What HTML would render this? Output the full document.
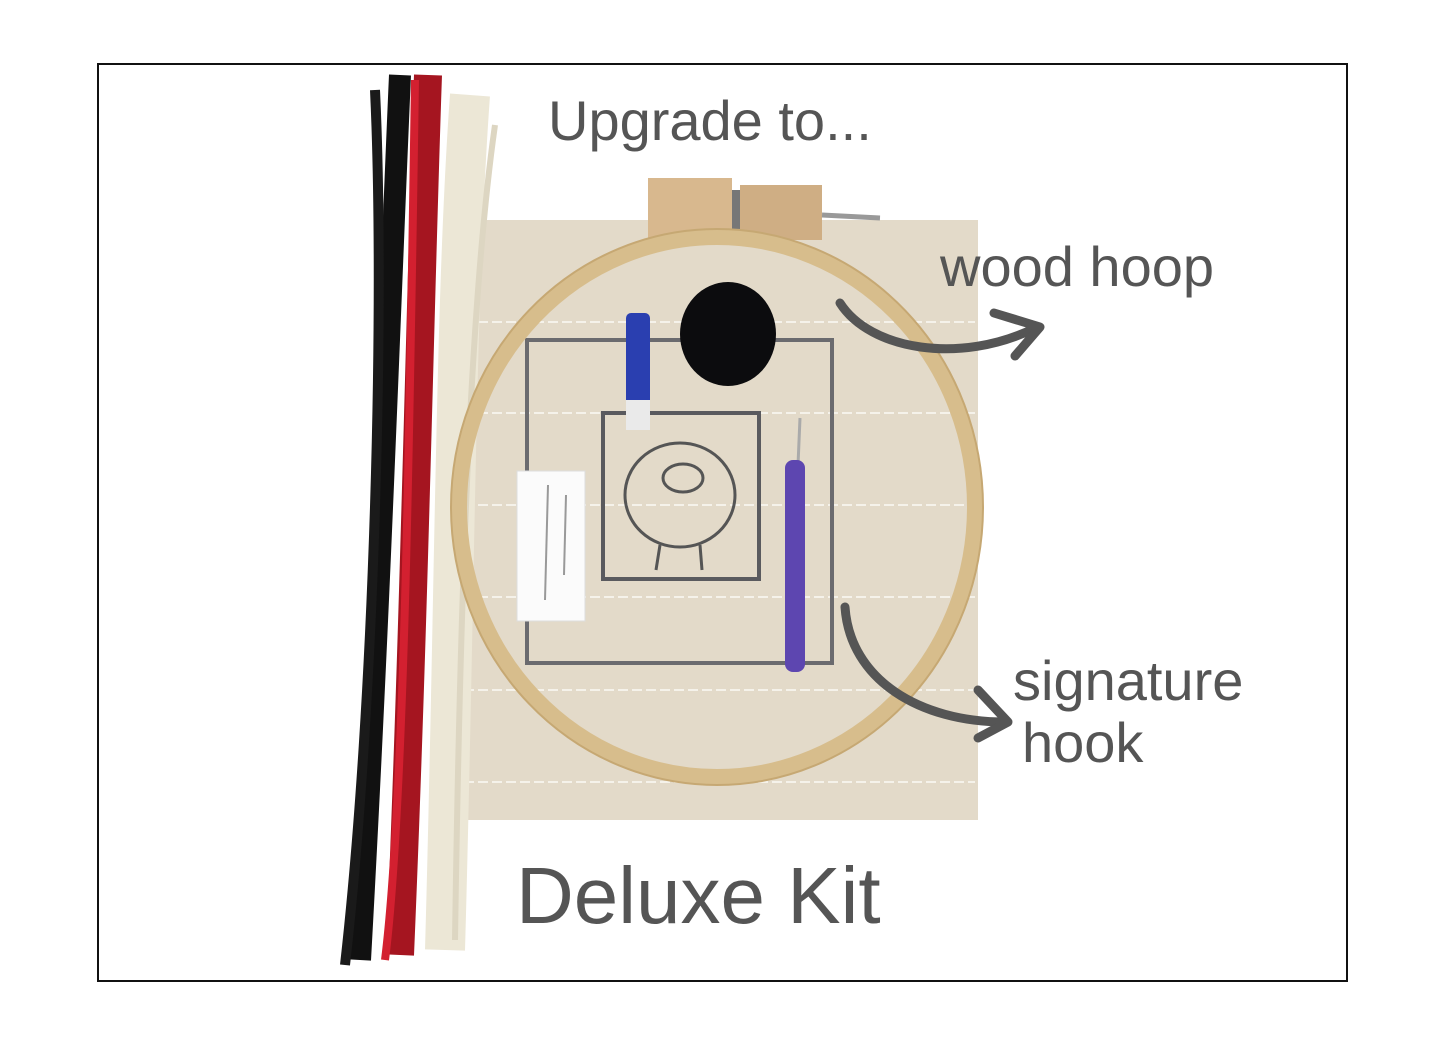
<!DOCTYPE html>
<html><head><style>
html,body{margin:0;padding:0;background:#fff;}
body{width:1445px;height:1046px;position:relative;overflow:hidden;font-family:"Liberation Sans",sans-serif;}
.t{position:absolute;color:#555;white-space:nowrap;}
</style></head><body>
<svg width="1445" height="1046" style="position:absolute;left:0;top:0">
<rect x="98" y="64" width="1249" height="917" fill="#fff" stroke="#111" stroke-width="2"/>
<!-- canvas -->
<rect x="445" y="220" width="533" height="600" fill="#e3dac9"/>
<g stroke="#f5f2ea" stroke-width="2" stroke-dasharray="10 4">
<line x1="450" y1="322" x2="975" y2="322"/><line x1="450" y1="413" x2="975" y2="413"/>
<line x1="450" y1="505" x2="975" y2="505"/><line x1="450" y1="597" x2="975" y2="597"/>
<line x1="450" y1="690" x2="975" y2="690"/><line x1="450" y1="782" x2="975" y2="782"/>
</g>
<!-- yarn -->
<g fill="none" stroke-width="5">
<path d="M400 75 C390 300 380 600 360 960" stroke="#111" stroke-width="22"/>
<path d="M375 90 C385 300 375 700 345 965" stroke="#1a1a1a" stroke-width="10"/>
<path d="M428 75 C420 300 415 600 400 955" stroke="#a51520" stroke-width="28"/>
<path d="M415 80 C410 400 405 800 385 960" stroke="#d32030" stroke-width="8"/>
<path d="M470 95 C455 300 455 600 445 950" stroke="#ece7d6" stroke-width="40"/>
<path d="M495 125 C470 300 460 600 455 940" stroke="#ddd6c2" stroke-width="6"/>
</g>
<!-- clamp -->
<rect x="648" y="178" width="84" height="62" fill="#d8b88e"/>
<rect x="740" y="185" width="82" height="55" fill="#cfae84"/>
<rect x="732" y="190" width="8" height="45" fill="#777"/>
<line x1="822" y1="215" x2="880" y2="218" stroke="#999" stroke-width="5"/>
<!-- drawings -->
<rect x="527" y="340" width="305" height="323" fill="none" stroke="#6b6b6f" stroke-width="4"/>
<rect x="603" y="413" width="156" height="166" fill="none" stroke="#5a5a5e" stroke-width="4"/>
<ellipse cx="680" cy="495" rx="55" ry="52" fill="none" stroke="#555" stroke-width="3"/>
<ellipse cx="683" cy="478" rx="20" ry="14" fill="none" stroke="#555" stroke-width="3"/>
<line x1="660" y1="545" x2="656" y2="570" stroke="#555" stroke-width="3"/>
<line x1="700" y1="545" x2="702" y2="570" stroke="#555" stroke-width="3"/>
<!-- hoop -->
<ellipse cx="717" cy="507" rx="258" ry="270" fill="none" stroke="#d7bd8c" stroke-width="16"/>
<ellipse cx="717" cy="507" rx="266" ry="278" fill="none" stroke="#c6a873" stroke-width="2"/>
<!-- ball -->
<ellipse cx="728" cy="334" rx="48" ry="52" fill="#0c0c0e"/>
<!-- spool -->
<rect x="626" y="313" width="24" height="100" rx="5" fill="#2a3fb0"/>
<rect x="626" y="400" width="24" height="30" fill="#eaeaea"/>
<!-- hook -->
<line x1="800" y1="418" x2="798" y2="465" stroke="#aaa" stroke-width="3"/>
<rect x="785" y="460" width="20" height="212" rx="8" fill="#5d46b0"/>
<!-- needle card -->
<rect x="517" y="471" width="68" height="150" fill="#fbfbfb" stroke="#ddd"/>
<line x1="548" y1="485" x2="545" y2="600" stroke="#999" stroke-width="2"/>
<line x1="566" y1="495" x2="564" y2="575" stroke="#999" stroke-width="2"/>
<!-- arrows -->
<g fill="none" stroke="#555" stroke-width="9" stroke-linecap="round" stroke-linejoin="round">
<path d="M840 303 C870 350 960 365 1035 328"/>
<path d="M994 313 L1040 327 L1015 356"/>
<path d="M845 607 C850 680 920 722 1005 722"/>
<path d="M978 690 L1008 722 L978 738"/>
</g>
</svg>
<div class="t" style="left:548px;top:88px;font-size:56px;">Upgrade to...</div>
<div class="t" style="left:940px;top:234px;font-size:56px;">wood hoop</div>
<div class="t" style="left:1013px;top:648px;font-size:56px;">signature</div>
<div class="t" style="left:1022px;top:710px;font-size:56px;">hook</div>
<div class="t" style="left:516px;top:850px;font-size:80px;">Deluxe Kit</div>
</body></html>
